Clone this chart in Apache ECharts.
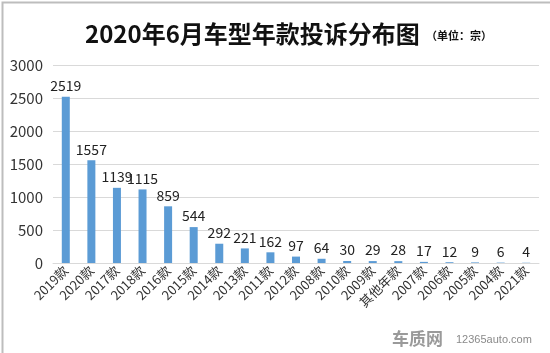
<!DOCTYPE html>
<html>
<head>
<meta charset="utf-8">
<script src="https://cdn.jsdelivr.net/npm/echarts@6/dist/echarts.min.js"></script>
<style>
  html, body { margin: 0; padding: 0; background: #fff; }
  #myChart { width: 550px; height: 353px; }
</style>
</head>
<body>
<div id="myChart"></div>
<script>
// 车型年款
const categories = ['2019款', '2020款', '2017款', '2018款', '2016款', '2015款', '2014款', '2013款', '2011款', '2012款',
  '2008款', '2010款', '2009款', '其他年款', '2007款', '2006款', '2005款', '2004款', '2021款']
// 投诉量
const values = [2519, 1557, 1139, 1115, 859, 544, 292, 221, 162, 97, 64, 30, 29, 28, 17, 12, 9, 6, 4]
const yTicks = [0, 500, 1000, 1500, 2000, 2500, 3000]

const myChart = echarts.init(document.getElementById('myChart'))
const font = '"Microsoft YaHei", "Noto Sans CJK SC", sans-serif'

const option = {
  animation: false,
  title: {
    text: '2020年6月车型年款投诉分布图',
    left: 80,
    top: 17,
    textStyle: { fontSize: 24, fontWeight: 'bold', color: '#111', fontFamily: font }
  },
  graphic: [
    {
      // 外边框
      type: 'rect',
      left: 0,
      top: 0,
      shape: { width: 549, height: 352 },
      style: { fill: 'none', stroke: '#bdbdbd', lineWidth: 2 },
      silent: true
    },
    {
      type: 'text',
      left: 426,
      top: 30,
      style: { text: '（单位：宗）', fontSize: 11, fill: '#111', fontFamily: font, fontWeight: 'bold' }
    },
    {
      type: 'text',
      left: 392,
      bottom: 6,
      style: { text: '车质网', fontSize: 17, fill: '#9a9a9a', fontFamily: font, fontWeight: 'bold' }
    },
    {
      type: 'text',
      left: 456,
      bottom: 8,
      style: { text: '12365auto.com', fontSize: 11, fill: '#8a8a8a', fontFamily: 'Arial, sans-serif' }
    }
  ],
  grid: { left: 53, right: 11, top: 65, bottom: 90 },
  xAxis: {
    type: 'category',
    data: categories,
    axisLine: { lineStyle: { color: '#d9d9d9' } },
    axisTick: { show: false },
    axisLabel: { rotate: 45, color: '#333', fontSize: 13, fontFamily: font, margin: 5, interval: 0 }
  },
  yAxis: {
    type: 'value',
    min: yTicks[0],
    max: yTicks[yTicks.length - 1],
    interval: 500,
    axisLine: { show: false },
    axisTick: { show: false },
    axisLabel: { color: '#333', fontSize: 15, fontFamily: font, margin: 10, formatter: v => String(v) },
    splitLine: { lineStyle: { color: '#d9d9d9' } }
  },
  series: [{
    type: 'bar',
    data: values,
    barWidth: 8,
    itemStyle: { color: '#5b9bd5' },
    label: { show: true, position: 'top', color: '#222', fontSize: 14, fontFamily: font, distance: 4 }
  }]
}

myChart.setOption(option)
</script>
</body>
</html>
